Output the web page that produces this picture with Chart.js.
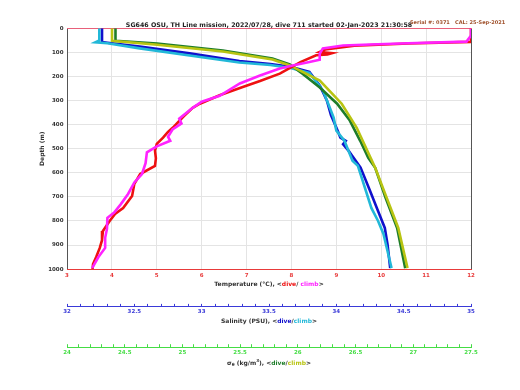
<!DOCTYPE html>
<html>
<head>
<meta charset="utf-8">
<script src="https://cdn.jsdelivr.net/npm/chart.js@4.4.1/dist/chart.umd.min.js"></script>
<style>
  html, body { margin: 0; padding: 0; background: #fff; }
</style>
</head>
<body>
<canvas id="ctdChart" width="520" height="390"></canvas>
<script>
// temperature profile (degC) and depths (m)
const tempDive = [12.0, 12.0, 10.6, 9.4, 8.75, 8.63, 8.9, 8.8, 8.55, 8.2, 7.74, 7.3, 6.9, 6.4, 5.96, 5.8, 5.6, 5.36, 5.25, 5.14, 5.0, 4.96, 4.98, 4.96, 4.63, 4.5, 4.45, 4.25, 4.07, 3.95, 3.8, 3.78, 3.73, 3.65, 3.58, 3.57];
const tempDiveDepth = [0, 56, 63, 72, 88, 98, 103, 108, 112, 140, 188, 219, 245, 278, 313, 330, 365, 412, 430, 454, 480, 508, 540, 571, 605, 646, 696, 746, 771, 800, 842, 880, 912, 950, 979, 1000];
const tempClimb = [12.0, 12.0, 11.9, 10.6, 9.75, 9.15, 8.7, 8.63, 8.63, 8.4, 8.0, 7.74, 7.3, 6.85, 6.4, 6.0, 5.8, 5.5, 5.55, 5.35, 5.25, 5.3, 5.0, 4.78, 4.75, 4.67, 4.5, 4.36, 4.2, 4.05, 3.9, 3.89, 3.85, 3.85, 3.7, 3.56];
const tempClimbDepth = [0, 30, 55, 62, 67, 71, 83, 105, 130, 140, 155, 167, 196, 229, 280, 305, 330, 375, 395, 420, 450, 467, 490, 515, 560, 605, 640, 688, 730, 765, 787, 833, 870, 912, 950, 996];

// salinity (PSU)
const salDive = [32.26, 32.26, 32.30, 32.54, 32.91, 33.28, 33.51, 33.66, 33.80, 33.88, 33.93, 33.96, 34.01, 34.03, 34.07, 34.05, 34.09, 34.18, 34.25, 34.30, 34.36, 34.38, 34.40];
const salDiveDepth = [0, 57, 60, 75, 104, 136, 148, 160, 181, 240, 300, 360, 425, 454, 467, 481, 508, 578, 675, 745, 829, 896, 996];
const salClimb = [32.24, 32.24, 32.21, 32.30, 32.54, 32.91, 33.28, 33.51, 33.66, 33.80, 33.90, 33.94, 33.98, 34.00, 34.06, 34.09, 34.12, 34.16, 34.26, 34.31, 34.35, 34.38, 34.41];
const salClimbDepth = [0, 50, 58, 62, 83, 113, 142, 152, 165, 185, 258, 313, 371, 425, 467, 508, 550, 571, 746, 800, 854, 925, 996];

// sigma-theta (kg/m^3)
const sigDive = [24.42, 24.42, 24.78, 25.35, 25.78, 25.93, 26.04, 26.19, 26.34, 26.45, 26.54, 26.61, 26.67, 26.76, 26.86, 26.93];
const sigDiveDepth = [0, 52, 63, 92, 125, 150, 188, 246, 313, 383, 467, 538, 579, 704, 829, 996];
const sigClimb = [24.39, 24.39, 24.76, 25.35, 25.78, 25.93, 26.19, 26.38, 26.51, 26.63, 26.67, 26.77, 26.87, 26.95];
const sigClimbDepth = [0, 52, 67, 96, 129, 154, 217, 313, 413, 538, 579, 704, 829, 996];

const depthTicks = [0, 100, 200, 300, 400, 500, 600, 700, 800, 900, 1000];

const titleText = 'SG646 OSU, TH Line mission, 2022/07/28, dive 711 started 02-Jan-2023 21:30:58';
const serialText = 'Serial #: 0371   CAL: 25-Sep-2021';

const FONT = '"DejaVu Sans", sans-serif';
const C = {
  tDive: '#ee1111', tClimb: '#ff22ff',
  sDive: '#1010cc', sClimb: '#22b8d8',
  dDive: '#1e7d2a', dClimb: '#b8c412',
  tAxis: '#e83a3a', sAxis: '#3a3ad8', dAxis: '#44dd44', text: '#333'
};

function pts(xs, zs) {
  return xs.map((v, i) => ({x: v, y: zs[i]}));
}
function line(label, xs, zs, color, xAxisID) {
  return {label, data: pts(xs, zs), xAxisID, yAxisID: 'y', showLine: true,
    borderColor: color, backgroundColor: color, borderWidth: 2.6, pointRadius: 0, tension: 0};
}
function halfLabel(v) {
  return Math.abs(v * 2 - Math.round(v * 2)) < 1e-6 ? String(+v.toFixed(1)) : '';
}

// axis titles with coloured dive / climb words
const axisTitles = {
  x: [['Temperature (°C), <', C.text], ['dive', C.tDive], ['/ ', C.text], ['climb', C.tClimb], ['>', C.text]],
  xS: [['Salinity (PSU), <', C.text], ['dive', C.sDive], ['/', C.text], ['climb', C.sClimb], ['>', C.text]],
  xD: [['σ', C.text], ['θ', C.text, 'sub'], [' (kg/m', C.text], ['3', C.text, 'sup'], ['), <', C.text], ['dive', C.dDive], ['/', C.text], ['climb', C.dClimb], ['>', C.text]]
};
const titleSize = 6;

const textPlugin = {
  id: 'ctdText',
  afterDraw(chart) {
    const ctx = chart.ctx;
    ctx.save();
    ctx.textBaseline = 'middle';
    ctx.textAlign = 'left';
    ctx.font = 'bold 5px ' + FONT;
    ctx.fillStyle = '#a0522d';
    ctx.fillText(serialText, 410, 23);
    Object.keys(axisTitles).forEach(id => {
      const s = chart.scales[id];
      const pad = s.options.title.padding;
      const y = s.bottom - pad.bottom - titleSize * 1.2 / 2;
      const parts = axisTitles[id];
      const fontFor = p => 'bold ' + (p[2] ? titleSize * 0.7 : titleSize) + 'px ' + FONT;
      let w = 0;
      parts.forEach(p => { ctx.font = fontFor(p); w += ctx.measureText(p[0]).width; });
      let x = (s.left + s.right) / 2 - w / 2;
      parts.forEach(p => {
        ctx.font = fontFor(p);
        ctx.fillStyle = p[1];
        const dy = p[2] === 'sub' ? 2 : p[2] === 'sup' ? -2.5 : 0;
        ctx.fillText(p[0], x, y + dy);
        x += ctx.measureText(p[0]).width;
      });
    });
    ctx.restore();
  }
};

const tickFont = {family: FONT, size: 5.5, weight: 'bold'};
const axisTitleFont = {family: FONT, size: titleSize, weight: 'bold'};

new Chart(document.getElementById('ctdChart'), {
  type: 'scatter',
  data: {
    datasets: [
      line('Temperature climb', tempClimb, tempClimbDepth, C.tClimb, 'x'),
      line('Temperature dive', tempDive, tempDiveDepth, C.tDive, 'x'),
      line('Sigma climb', sigClimb, sigClimbDepth, C.dClimb, 'xD'),
      line('Sigma dive', sigDive, sigDiveDepth, C.dDive, 'xD'),
      line('Salinity climb', salClimb, salClimbDepth, C.sClimb, 'xS'),
      line('Salinity dive', salDive, salDiveDepth, C.sDive, 'xS')
    ]
  },
  options: {
    responsive: false,
    animation: false,
    layout: {padding: {left: 39, right: 49, top: 0, bottom: 23.3}},
    plugins: {
      legend: {display: false},
      tooltip: {enabled: false},
      title: {
        display: true, text: titleText, fullSize: false, color: '#222',
        font: {family: FONT, size: 6.3, weight: 'bold'},
        padding: {top: 22, bottom: -1.2}
      }
    },
    scales: {
      y: {
        type: 'linear', position: 'left', reverse: true, min: 0, max: 1000,
        afterBuildTicks: s => { s.ticks = depthTicks.map(v => ({value: v})); },
        ticks: {font: tickFont, color: C.text, padding: 3.5, callback: v => String(v)},
        grid: {color: '#e4e4e4', drawTicks: false},
        border: {color: '#555'},
        title: {display: true, text: 'Depth (m)', color: C.text, font: axisTitleFont, padding: {top: 0, bottom: -1.5}}
      },
      yR: {
        type: 'linear', position: 'right', reverse: true, min: 0, max: 1000,
        ticks: {display: false}, grid: {display: false, drawTicks: false}, border: {color: '#555'}
      },
      xTop: {
        type: 'linear', position: 'top', min: 3, max: 12,
        ticks: {display: false}, grid: {display: false, drawTicks: false}, border: {color: '#e8607a'}
      },
      x: {
        type: 'linear', position: 'bottom', min: 3, max: 12,
        ticks: {stepSize: 1, font: tickFont, color: C.tAxis, padding: 3, maxRotation: 0},
        grid: {color: '#e4e4e4', drawTicks: false},
        border: {color: C.tAxis},
        title: {display: true, text: 'Temperature (°C), <dive/ climb>', color: 'rgba(0,0,0,0)', font: axisTitleFont, padding: {top: -1, bottom: 19}}
      },
      xS: {
        type: 'linear', position: 'bottom', min: 32, max: 35,
        ticks: {stepSize: 0.1, autoSkip: false, maxRotation: 0, font: tickFont, color: C.sAxis, padding: 4.5, callback: halfLabel},
        grid: {drawOnChartArea: false, tickLength: -3, color: C.sAxis},
        border: {color: C.sAxis},
        title: {display: true, text: 'Salinity (PSU), <dive/climb>', color: 'rgba(0,0,0,0)', font: axisTitleFont, padding: {top: -1.8, bottom: 22.3}}
      },
      xD: {
        type: 'linear', position: 'bottom', min: 24, max: 27.5,
        ticks: {stepSize: 0.1, autoSkip: false, maxRotation: 0, font: tickFont, color: C.dAxis, padding: 5, callback: halfLabel},
        grid: {drawOnChartArea: false, tickLength: -3, color: C.dAxis},
        border: {color: C.dAxis},
        title: {display: true, text: 'σθ (kg/m3), <dive/climb>', color: 'rgba(0,0,0,0)', font: axisTitleFont, padding: {top: -1.3, bottom: 0}}
      }
    }
  },
  plugins: [textPlugin]
});
</script>
</body>
</html>
